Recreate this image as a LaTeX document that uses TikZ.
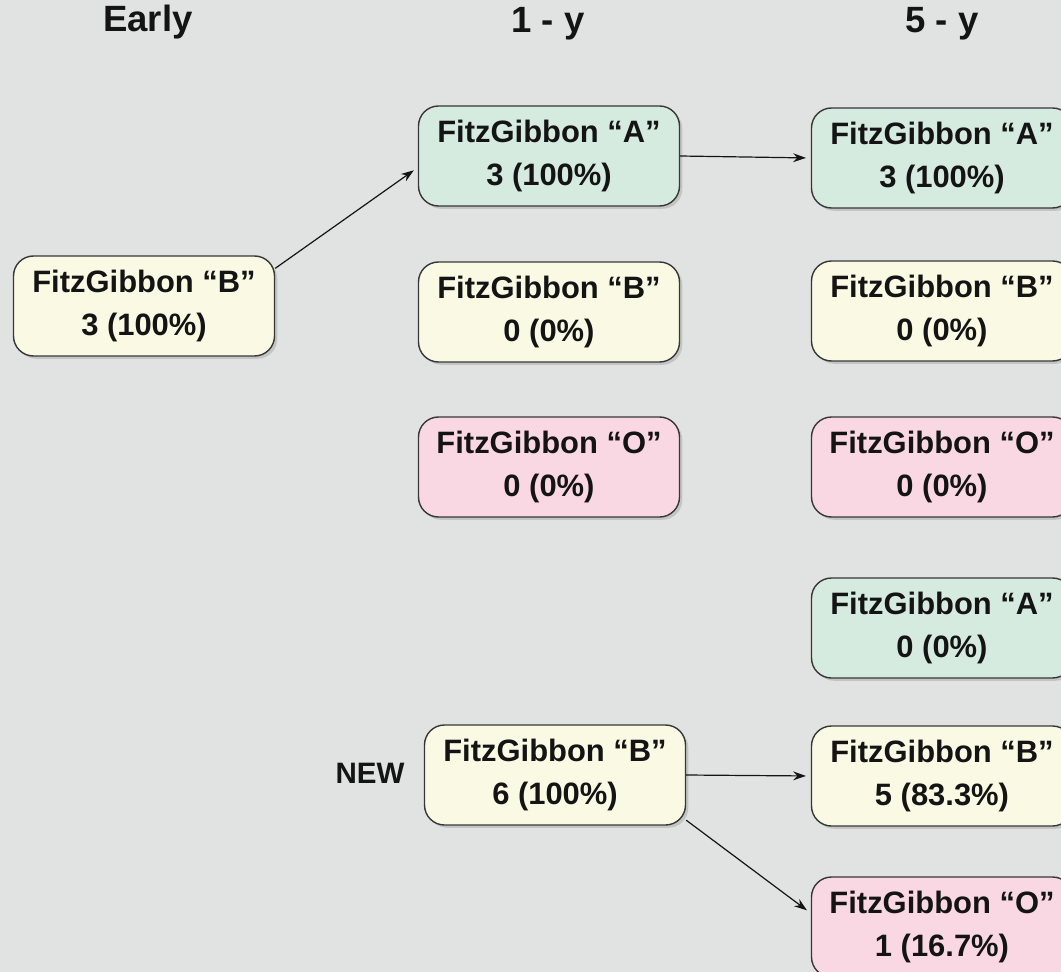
\documentclass[tikz,border=0pt]{standalone}
\usepackage{fontspec}
\setmainfont{Liberation Sans}
\usetikzlibrary{arrows.meta,shadows}
\definecolor{paper}{RGB}{225,226,226}
\definecolor{ink}{RGB}{20,20,20}
\definecolor{edge}{RGB}{55,55,55}
\definecolor{fillB}{RGB}{250,250,228}
\definecolor{fillA}{RGB}{214,235,223}
\definecolor{fillO}{RGB}{249,216,228}
\tikzset{
  grade/.style = {draw=edge, line width=0.35mm, rounded corners=5mm,
                  minimum width=65.25mm, minimum height=25mm, align=center,
                  font=\fontsize{22}{31}\selectfont\bfseries, text=ink,
                  drop shadow={shadow xshift=0.7mm, shadow yshift=-0.7mm, opacity=0.3}},
  gA/.style    = {grade, fill=fillA},
  gB/.style    = {grade, fill=fillB},
  gO/.style    = {grade, fill=fillO},
  head/.style  = {font=\fontsize{26}{30}\selectfont\bfseries, text=ink},
  tag/.style   = {font=\fontsize{21}{24}\selectfont\bfseries, text=ink},
  flow/.style  = {-{Stealth[length=3.2mm,width=2.2mm]}, draw=ink, line width=0.3mm,
                  shorten >=1.2mm},
}

\begin{document}
\begin{tikzpicture}[x=0.25mm,y=-0.25mm]
% 1 unit = 1 px of the 1061 x 972 layout, y running down
\fill[paper] (0,0) rectangle (1061,972);
\useasboundingbox (0,0) rectangle (1061,972);

% ======================================================= column heads
\node[head] (hEarly) at (148,22) {Early};
\node[head] (hOne)   at (548,24) {1 - y};
\node[head] (hFive)  at (942,24) {5 - y};

% ======================================================= early
\node[gB] (earlyB) at (144,306) {FitzGibbon “B”\\3 (100\%)};

% ======================================================= 1 - y
\node[gA] (oneA) at (549,156) {FitzGibbon “A”\\3 (100\%)};
\node[gB] (oneB) at (549,312) {FitzGibbon “B”\\0 (0\%)};
\node[gO] (oneO) at (549,467) {FitzGibbon “O”\\0 (0\%)};

\node[gB]  (oneBn)  at (555,775) {FitzGibbon “B”\\6 (100\%)};
\node[tag] (tagNew) at (370,773) {NEW};

% ======================================================= 5 - y (runs off the right edge)
\node[gA] (fiveA)  at (942,158) {FitzGibbon “A”\\3 (100\%)};
\node[gB] (fiveB)  at (942,311) {FitzGibbon “B”\\0 (0\%)};
\node[gO] (fiveO)  at (942,467) {FitzGibbon “O”\\0 (0\%)};
\node[gA] (fiveAn) at (942,628) {FitzGibbon “A”\\0 (0\%)};
\node[gB] (fiveBn) at (942,776) {FitzGibbon “B”\\5 (83.3\%)};
\node[gO] (fiveOn) at (942,927) {FitzGibbon “O”\\1 (16.7\%)};

% ======================================================= transitions
\draw[flow] (earlyB.16) -- (oneA.185);
\draw[flow] (oneA.east) -- (fiveA.west);
\draw[flow] (oneBn.east) -- (fiveBn.west);
\draw[flow] (oneBn.341) -- (fiveOn.174);

\end{tikzpicture}
\end{document}
